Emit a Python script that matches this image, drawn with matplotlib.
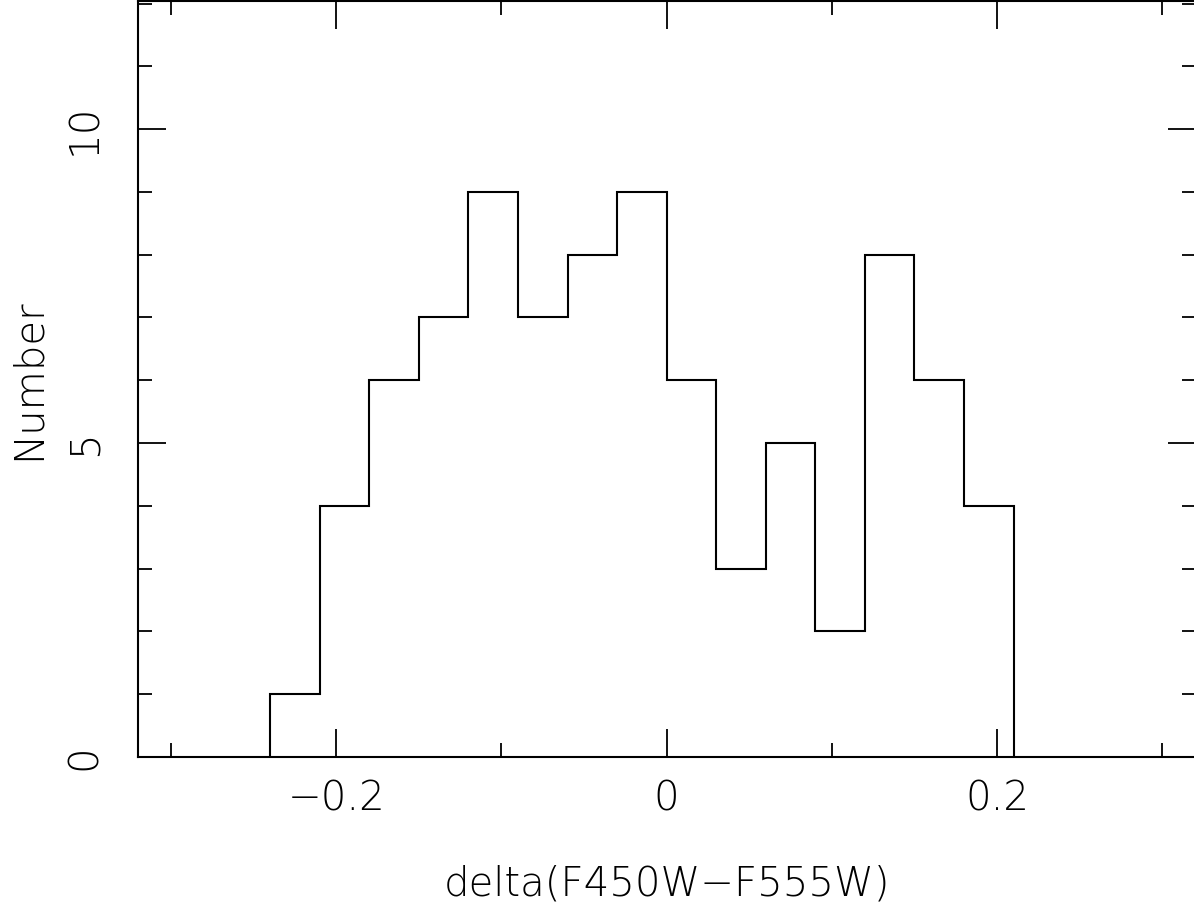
import matplotlib
matplotlib.use("Agg")
import matplotlib.pyplot as plt
import numpy as np

# histogram of colour offsets
bin_edges = [-0.24, -0.21, -0.18, -0.15, -0.12, -0.09, -0.06, -0.03,
             0.0, 0.03, 0.06, 0.09, 0.12, 0.15, 0.18, 0.21]
counts = [1, 4, 6, 7, 9, 7, 8, 9, 6, 3, 5, 2, 8, 6, 4]

xtick_major = [-0.2, 0.0, 0.2]
xtick_labels = ["\u22120.2", "0", "0.2"]
ytick_major = [0, 5, 10]

W, H = 1194, 915
fig = plt.figure(figsize=(W / 100, H / 100), dpi=100)
# frame is partly clipped by the picture edge, like the original
ax = fig.add_axes([137.7 / W, (H - 757) / H, (1195.6 - 137.7) / W, 756 / H])

ax.stairs(counts, bin_edges, baseline=0, color="black", lw=1.5)

ax.set_xlim(-0.3202, 0.3202)
ax.set_ylim(0, 12.04)

ax.set_xticks(xtick_major)
ax.set_xticklabels(xtick_labels)
ax.set_xticks([-0.3, -0.1, 0.1, 0.3], minor=True)
ax.set_yticks(ytick_major)
ax.set_yticks([1, 2, 3, 4, 6, 7, 8, 9, 11, 12], minor=True)

ax.tick_params(which="both", direction="in", top=True, right=True, color="black")
ax.tick_params(which="major", length=20, width=1.3)
ax.tick_params(which="minor", length=10, width=1.3)
ax.tick_params(axis="x", which="major", pad=16, labelsize=29)
ax.tick_params(axis="y", which="major", pad=24, labelsize=29)
for lab in ax.get_yticklabels():
    lab.set_rotation(90)
    lab.set_va("center")
for lab in ax.get_xticklabels() + ax.get_yticklabels():
    lab.set_fontweight("light")

for s in ax.spines.values():
    s.set_linewidth(1.5)

fig.text(667 / W, 1 - 884 / H, "delta(F450W\u2212F555W)", ha="center", va="center",
         fontsize=29, fontweight="light")
fig.text(28 / W, 1 - 379 / H, "Number", ha="center", va="center", rotation=90,
         fontsize=29, fontweight="light")

fig.savefig("out.png", dpi=100)
